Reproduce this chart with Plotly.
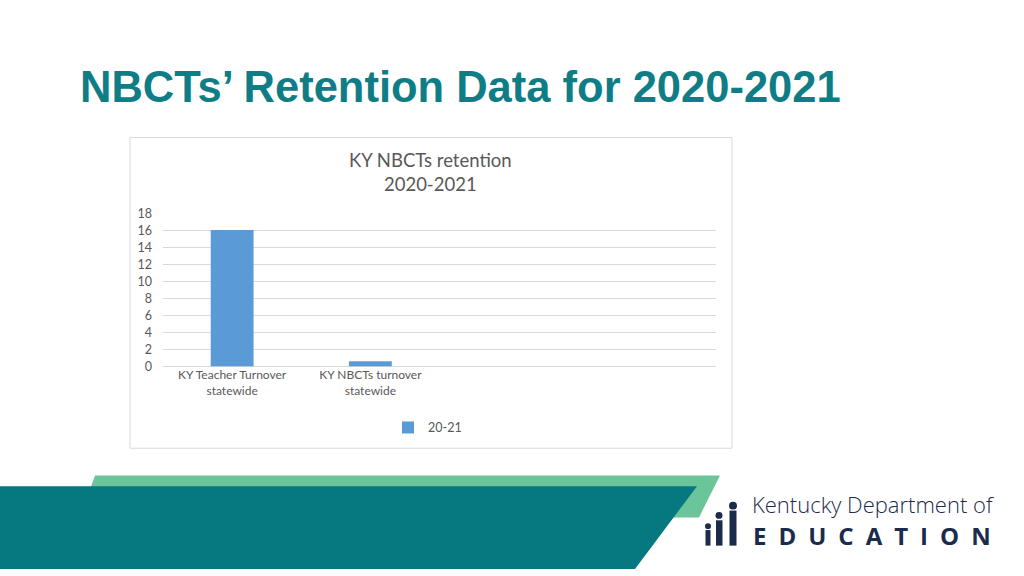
import plotly.graph_objects as go

categories = ["KY Teacher Turnover<br>statewide", "KY NBCTs turnover<br>statewide"]
values_2021 = [16.1, 0.6]
series_name = "20-21"
y_ticks = [0, 2, 4, 6, 8, 10, 12, 14, 16, 18]

W, H = 1024, 576
def px(x):
    return x / W
def py(y):
    return 1 - y / H

fig = go.Figure()
fig.add_trace(go.Bar(
    x=categories, y=values_2021, name=series_name,
    marker=dict(color="#5B9BD5", line=dict(width=0)),
    width=0.31, showlegend=True,
))

grey = "#595959"
navy = "#1C2B4B"

shapes = [
    # chart frame
    dict(type="rect", xref="paper", yref="paper",
         x0=px(130), x1=px(732), y0=py(452), y1=py(133),
         line=dict(color="#D9D9D9", width=1), fillcolor="rgba(0,0,0,0)", layer="below"),
    # green band
    dict(type="path", xref="paper", yref="paper",
         path=f"M {px(95)} {py(480)} L {px(720)} {py(480)} L {px(699)} {py(523)} L {px(80)} {py(523)} Z",
         fillcolor="#6CC49A", line=dict(width=0), layer="above"),
    # teal band
    dict(type="path", xref="paper", yref="paper",
         path=f"M 0 {py(491)} L {px(697)} {py(491)} L {px(635)} {py(576)} L 0 {py(576)} Z",
         fillcolor="#067880", line=dict(width=0), layer="above"),
]
# simple logo silhouettes
for hx, hy, r, bx0, bx1, by0 in [(708, 532, 3, 705.5, 710.5, 536),
                                  (719, 521, 3.5, 716, 722.5, 526),
                                  (733, 511, 4, 729.5, 736.5, 516)]:
    shapes.append(dict(type="circle", xref="paper", yref="paper",
                       x0=px(hx - r), x1=px(hx + r), y0=py(hy + r), y1=py(hy - r),
                       fillcolor=navy, line=dict(width=0)))
    shapes.append(dict(type="rect", xref="paper", yref="paper",
                       x0=px(bx0), x1=px(bx1), y0=py(552), y1=py(by0),
                       fillcolor=navy, line=dict(width=0)))

edu = "\u2002".join("EDUCATION")

fig.update_layout(
    width=W, height=H,
    margin=dict(l=0, r=0, t=0, b=0),
    paper_bgcolor="white", plot_bgcolor="white",
    font=dict(family="Lato, Carlito, Calibri, sans-serif", size=12, color=grey),
    xaxis=dict(
        domain=[px(163), px(716)],
        type="category",
        range=[-0.5, 3.5],
        showgrid=False, showline=False, ticks="",
        tickfont=dict(size=12, color=grey),
        fixedrange=True,
    ),
    yaxis=dict(
        domain=[py(368), py(211.5)],
        range=[0, 18],
        tickvals=y_ticks,
        showgrid=True, gridcolor="#D9D9D9", gridwidth=1,
        zeroline=True, zerolinecolor="#D9D9D9", zerolinewidth=1,
        showline=False, ticks="",
        ticklabelstandoff=10,
        tickfont=dict(size=12.5, color=grey),
        fixedrange=True,
    ),
    showlegend=True,
    legend=dict(
        x=px(388), y=py(431), xanchor="left", yanchor="middle",
        orientation="h", itemwidth=30,
        font=dict(size=12.5, color=grey),
        bgcolor="rgba(0,0,0,0)",
    ),
    shapes=shapes,
    annotations=[
        dict(text="NBCTs’ Retention Data for 2020-2021", xref="paper", yref="paper",
             x=px(78), y=py(81), xanchor="left", yanchor="middle", showarrow=False,
             font=dict(family="Liberation Sans, Arial, sans-serif", size=43.5, color="#0F7D86", weight="bold")),
        dict(text="KY NBCTs retention<br>2020-2021", xref="paper", yref="paper",
             x=px(430), y=py(168), xanchor="center", yanchor="middle", showarrow=False,
             font=dict(size=18.5, color=grey)),
        dict(text="Kentucky Department of", xref="paper", yref="paper",
             x=px(750), y=py(509.5), xanchor="left", yanchor="middle", showarrow=False,
             font=dict(family="Open Sans, sans-serif", size=22, color=navy, weight=300)),
        dict(text=edu, xref="paper", yref="paper",
             x=px(751), y=py(542), xanchor="left", yanchor="middle", showarrow=False,
             font=dict(family="Open Sans, sans-serif", size=24, color=navy, weight="bold")),
    ],
)

fig.write_html("out.html", config={"displayModeBar": False},
               post_script="document.body.style.margin='0';")
